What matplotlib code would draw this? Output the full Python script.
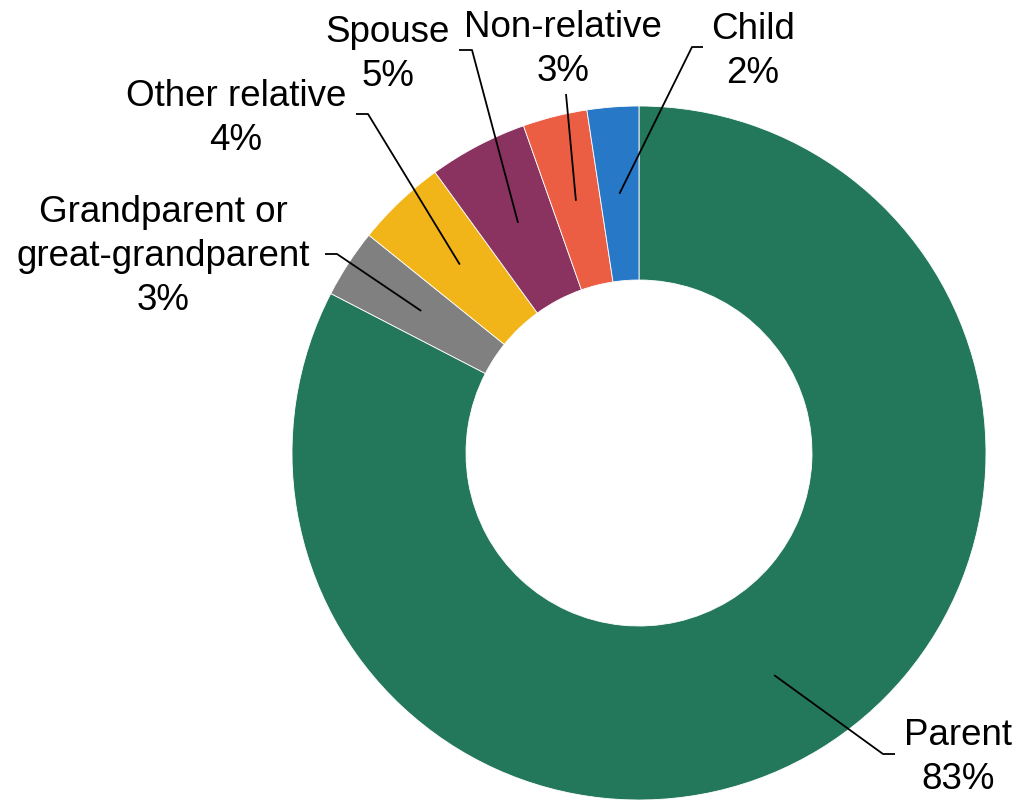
import matplotlib
matplotlib.use("Agg")
import matplotlib.pyplot as plt
import numpy as np

# Data (clockwise from top)
categories = ["Parent", "Grandparent or\ngreat-grandparent", "Other relative",
              "Spouse", "Non-relative", "Child"]
values = [82.6, 3.2, 4.2, 4.6, 3.0, 2.4]
colors = ["#23775A", "#808080", "#F1B51A", "#8B3360", "#EB5E43", "#2878C8"]

plt.rcParams['font.family'] = ['Liberation Sans', 'DejaVu Sans']

W, H = 1018, 800
fig = plt.figure(figsize=(W / 100, H / 100), dpi=100)
ax = fig.add_axes([0, 0, 1, 1])

cx, cy, R, ring = 639, 453, 347, 174
wedges, _ = ax.pie(values, colors=colors, startangle=-90, counterclock=True,
                   center=(cx, cy), radius=R,
                   wedgeprops=dict(width=ring, edgecolor='white', linewidth=0.6))
ax.set_xlim(0, W)
ax.set_ylim(H, 0)
ax.set_aspect('equal')
ax.axis('off')

# label layout: (text x, last-line baseline y, leader points from label side)
layout = {
    "Parent": (958, 789, [(895, 754), (883, 754)]),
    "Grandparent or\ngreat-grandparent": (163, 310, [(325, 254), (337, 254)]),
    "Other relative": (236, 150, [(356, 114), (368, 114)]),
    "Spouse": (388, 86, [(459, 50), (472, 50)]),
    "Non-relative": (563, 81, [(566, 94)]),
    "Child": (753, 83, [(703, 47), (692, 47)]),
}

r_mid = R - ring / 2
for w, cat, v in zip(wedges, categories, values):
    tx, ty, pts = layout[cat]
    ax.text(tx, ty, f"{cat}\n{round(v):.0f}%", ha='center', va='baseline',
            fontsize=26.5, linespacing=1.33, color='black')
    mid = np.deg2rad((w.theta1 + w.theta2) / 2)
    anchor = (cx + r_mid * np.cos(mid), cy + r_mid * np.sin(mid))
    xs = [p[0] for p in pts] + [anchor[0]]
    ys = [p[1] for p in pts] + [anchor[1]]
    ax.plot(xs, ys, color='black', lw=1.3, solid_capstyle='butt')

fig.savefig("out.png", dpi=100)
